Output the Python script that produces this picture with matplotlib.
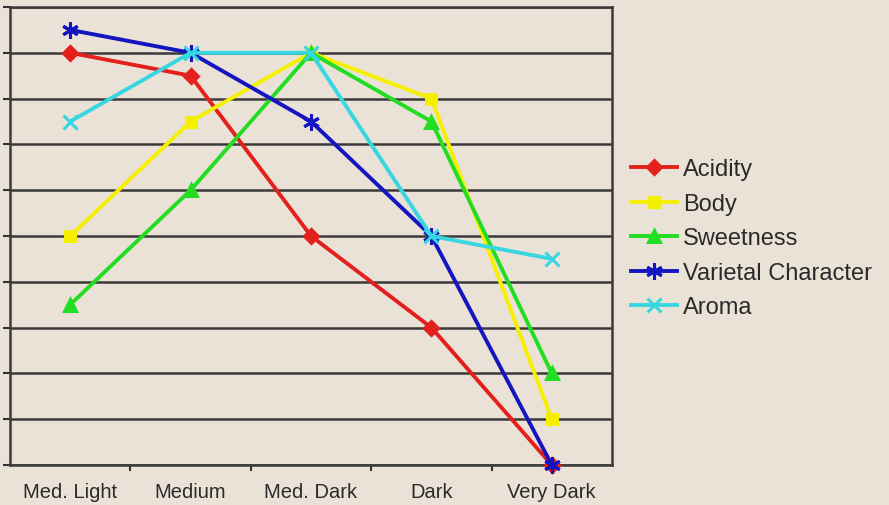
import matplotlib
matplotlib.use("Agg")
import matplotlib.pyplot as plt
from matplotlib.ticker import FixedLocator

categories = ["Med. Light", "Medium", "Med. Dark", "Dark", "Very Dark"]
acidity = [9, 8.5, 5, 3, 0]
body = [5, 7.5, 9, 8, 1]
sweetness = [3.5, 6, 9, 7.5, 2]
varietal = [9.5, 9, 7.5, 5, 0]
aroma = [7.5, 9, 9, 5, 4.5]

series = [
    ("Acidity", acidity, "#E3201B", "D", 7.5),
    ("Body", body, "#F5F000", "s", 7.5),
    ("Sweetness", sweetness, "#22DD22", "^", 9),
    ("Varietal Character", varietal, "#1414C0", (6, 2, 0), 12),
    ("Aroma", aroma, "#38D6E0", "x", 10),
]

bg = "#EBE2D7"
plt.rcParams['font.family'] = ['Liberation Sans', 'DejaVu Sans']

fig = plt.figure(figsize=(8.89, 5.06), dpi=100, facecolor=bg)
ax = fig.add_axes([10/889, 40/506, 602/889, 458/506])
ax.set_facecolor(bg)

x = list(range(len(categories)))
for name, vals, col, mk, ms in series:
    ax.plot(x, vals, color=col, lw=2.8, marker=mk, markersize=ms,
            markerfacecolor=col, markeredgecolor=col, markeredgewidth=2.2,
            label=name, zorder=3, clip_on=False)

ax.set_xlim(-0.5, 4.5)
ax.set_ylim(0, 10)
ax.set_yticks(range(0, 11))
ax.set_yticklabels([])
ax.yaxis.grid(True, color="#3A3A3A", lw=1.8, zorder=1)
ax.set_axisbelow(True)
ax.tick_params(axis='y', direction='out', length=5, width=1.5, color="#333333")
ax.set_xticks(x)
ax.set_xticklabels(categories, fontsize=14.5, color="#2A2A2A")
ax.tick_params(axis='x', which='major', length=0, pad=12)
ax.xaxis.set_minor_locator(FixedLocator([0.5, 1.5, 2.5, 3.5]))
ax.tick_params(axis='x', which='minor', direction='out', length=4, width=1.5, color="#333333")
for s in ax.spines.values():
    s.set_color("#3A3A3A")
    s.set_linewidth(1.8)

leg = fig.legend(loc='upper left', bbox_to_anchor=(622/889, 1 - 150/506),
                 frameon=False, fontsize=17, handlelength=1.95,
                 labelspacing=0.53, handletextpad=0.22, borderaxespad=0)
for t in leg.get_texts():
    t.set_color("#2A2A2A")

fig.savefig("out.png", dpi=100, facecolor=bg)
